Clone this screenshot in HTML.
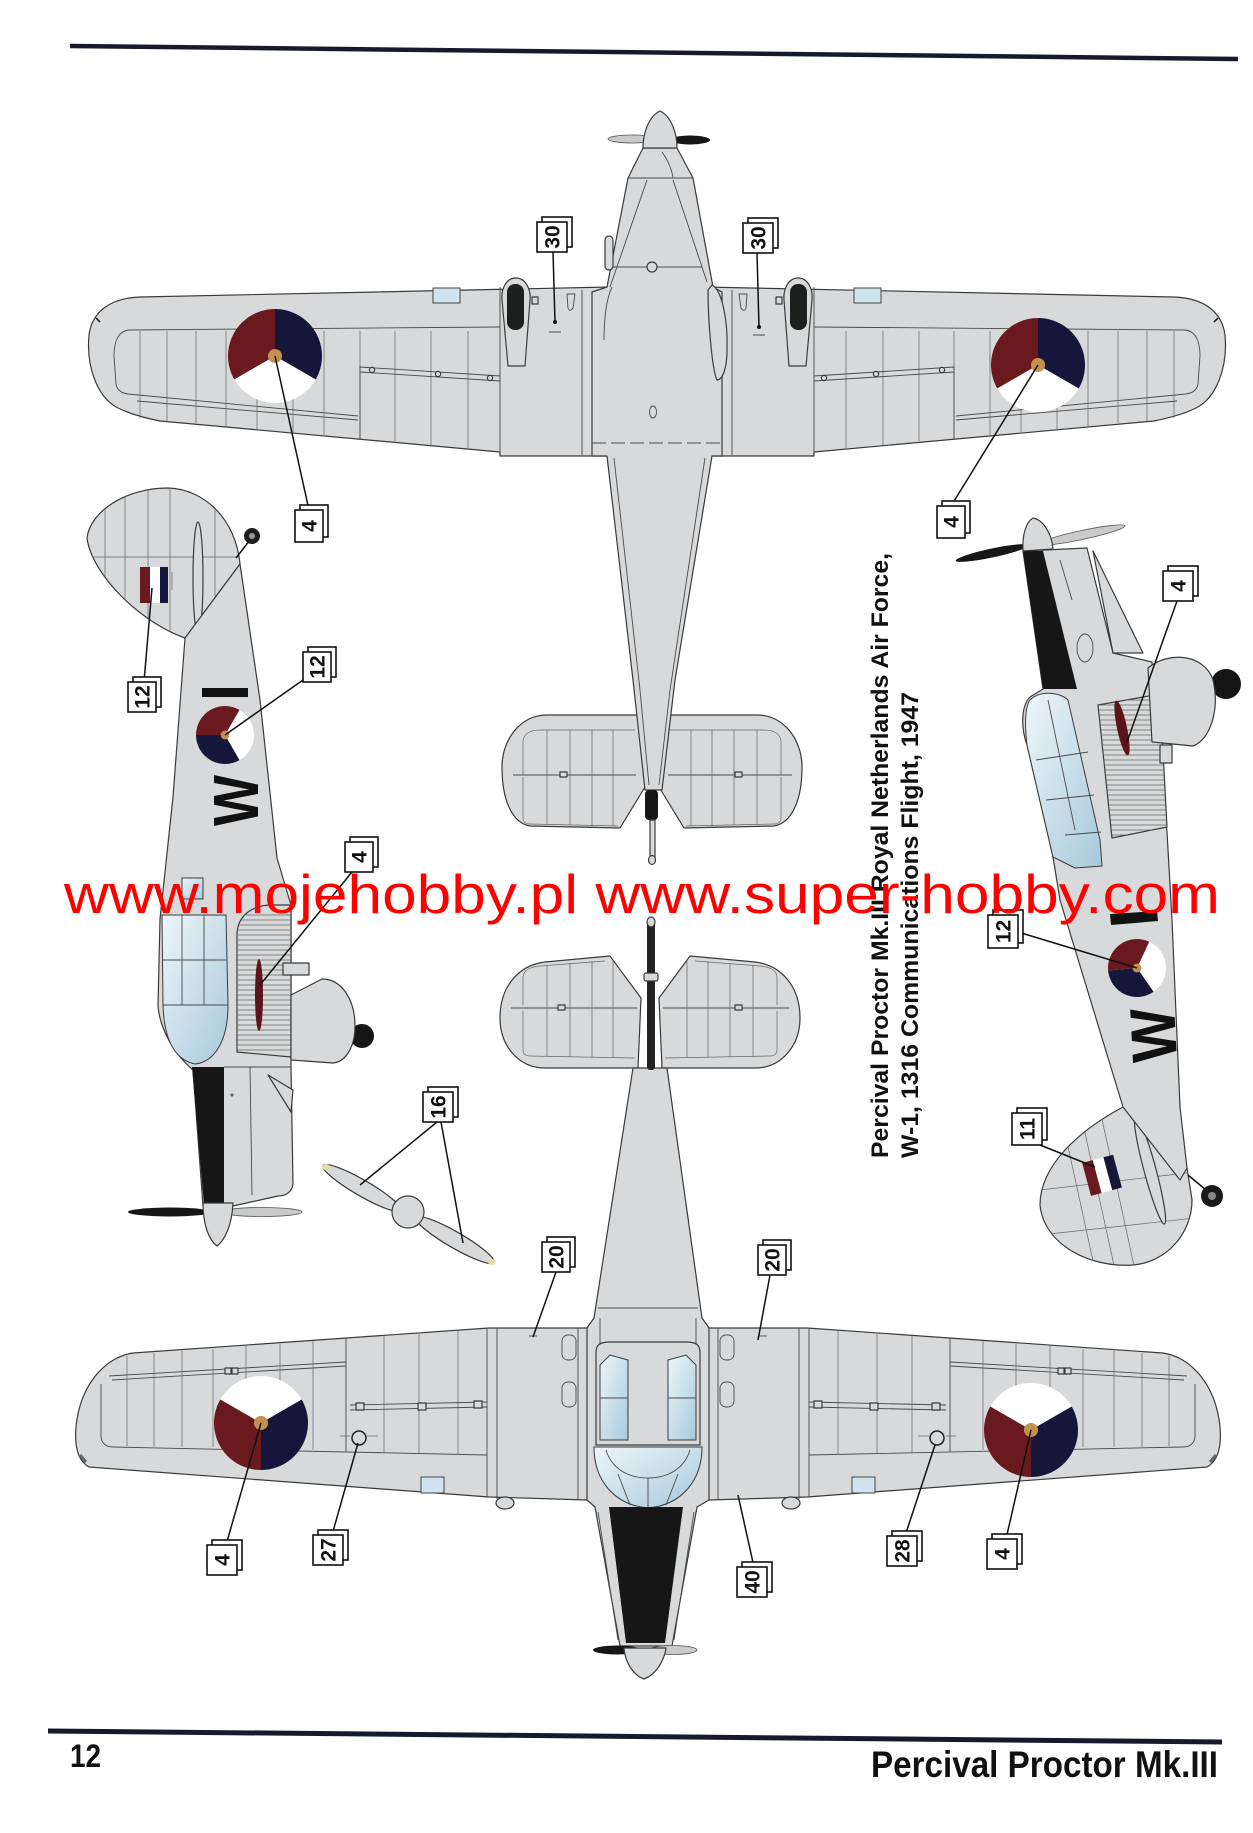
<!DOCTYPE html>
<html><head><meta charset="utf-8"><style>
html,body{margin:0;padding:0;background:#fff;}
svg{display:block;}
.pl{fill:#d8d9da;stroke:#3a3a3a;stroke-width:1.2;stroke-linejoin:round}
.ln{fill:none;stroke:#4a4a4a;stroke-width:0.9}
.lt{fill:none;stroke:#666;stroke-width:0.7}
.dk{fill:#161616}
.gl{fill:url(#glass);stroke:#3a3a3a;stroke-width:1}
.bx{fill:#fff;stroke:#111;stroke-width:1.6}
.bt{font-family:"Liberation Sans",sans-serif;font-weight:bold;font-size:21px;text-anchor:middle;fill:#111}
.ld{stroke:#111;stroke-width:1.5;fill:none}
</style></head><body>
<svg width="1253" height="1833" viewBox="0 0 1253 1833" xmlns="http://www.w3.org/2000/svg">
<defs>
 <linearGradient id="glass" x1="0" y1="0" x2="1" y2="1"><stop offset="0" stop-color="#eef6fa"/><stop offset="1" stop-color="#a7c9da"/></linearGradient>
 <g id="rA">
  <path d="M0,0 L-0.866,0.5 A1,1 0 0 1 0,-1 Z" fill="#6a1a1e"/>
  <path d="M0,0 L0,-1 A1,1 0 0 1 0.866,0.5 Z" fill="#15163a"/>
  <path d="M0,0 L0.866,0.5 A1,1 0 0 1 -0.866,0.5 Z" fill="#ffffff"/>
  <circle r="0.15" fill="#c39050"/>
 </g>
 <g id="rB">
  <path d="M0,0 L-0.866,-0.5 A1,1 0 0 1 0.866,-0.5 Z" fill="#ffffff"/>
  <path d="M0,0 L0.866,-0.5 A1,1 0 0 1 0,1 Z" fill="#15163a"/>
  <path d="M0,0 L0,1 A1,1 0 0 1 -0.866,-0.5 Z" fill="#6a1a1e"/>
  <circle r="0.15" fill="#c39050"/>
 </g>
 <g id="rC">
  <path d="M0,0 L0.5,-0.866 A1,1 0 0 1 0.5,0.866 Z" fill="#ffffff"/>
  <path d="M0,0 L0.5,0.866 A1,1 0 0 1 -1,0 Z" fill="#15163a"/>
  <path d="M0,0 L-1,0 A1,1 0 0 1 0.5,-0.866 Z" fill="#6a1a1e"/>
  <circle r="0.15" fill="#c39050"/>
 </g>
 <clipPath id="cFinC"><path d="M240,564 C236,520 205,489 168,488 C125,488 90,512 87,538 C92,575 140,622 185,638 Z"/></clipPath>
 <clipPath id="cWingC"><path d="M237,1052 L237,935 C237,916 252,905 272,905 L291,905 L291,1057 Z"/></clipPath>
 <clipPath id="cFinD"><path d="M1123,1107 C1080,1130 1040,1165 1040,1205 C1044,1245 1090,1268 1133,1265 C1168,1262 1192,1232 1192,1200 L1187,1168 Z"/></clipPath>
 <clipPath id="cWingD"><path d="M1098,705 L1160,694 L1167,827 L1112,838 Z"/></clipPath>

 <!-- plane A left wing details -->
 <g id="wdA">
  <path class="ln" d="M129,330 L500,327"/>
  <path class="ln" d="M129,330 C118,331 114,342 114,356 L116,384 C117,390 121,393 128,394 L358,416"/>
  <path class="ln" d="M137,401 L358,420"/>
  <path class="lt" d="M140,331V418 M167,331V421 M196,331V423 M226,331V426 M257,331V429 M293,331V432 M324,331V435 M360,331V438 M395,331V441 M431,331V445 M468,331V448"/>
  <path class="ln" d="M360,367 L500,376 M360,372 L500,381 M360,366 L360,440 M500,287 L500,453 M582,290 L582,455"/>
  <circle cx="372" cy="370" r="2.6" class="pl"/><circle cx="438" cy="374" r="2.6" class="pl"/><circle cx="490" cy="378" r="2.6" class="pl"/>
  <rect x="433" y="288" width="27" height="15" fill="#cfe4ee" stroke="#444" stroke-width="1"/>
  <path class="pl" d="M516,278 C526,278 531,290 530,300 L525,366 L508,366 L502,300 C501,289 506,278 516,278 Z"/>
  <rect x="507" y="284" width="17" height="46" rx="8" fill="#1e201e"/>
  <rect x="532" y="297" width="6" height="7" class="pl"/>
  <path class="ln" d="M567,294 L575,294 L573,308 C571,311 569,311 568,308 Z"/>
  <path class="ld" d="M96,318 L100,322" stroke="#5a6a70" stroke-width="3"/>
 </g>

 <!-- plane B left wing details -->
 <g id="wdB">
  <path class="ln" d="M109,1376 L346,1362 M112,1380 L346,1366"/>
  <path class="ln" d="M101,1384 L101,1436 C101,1443 106,1447 113,1447 L487,1455"/>
  <path class="lt" d="M127,1356V1446 M154,1353V1447 M182,1351V1447 M213,1349V1447 M246,1346V1448 M280,1344V1449 M313,1341V1450 M384,1336V1453 M419,1334V1453 M458,1331V1454"/>
  <path class="ln" d="M346,1338V1452 M487,1328V1497 M497,1328V1499 M578,1328V1500"/>
  <path class="ln" d="M350,1405 L487,1402 M350,1410 L487,1407"/>
  <rect x="356" y="1403" width="8" height="7" class="pl"/><rect x="418" y="1403" width="8" height="7" class="pl"/><rect x="474" y="1401" width="8" height="7" class="pl"/>
  <rect x="225" y="1368" width="6" height="6" class="pl"/><rect x="232" y="1368" width="6" height="6" class="pl"/>
  <rect x="421" y="1477" width="23" height="16" fill="#cfe4ee" stroke="#444" stroke-width="1"/>
  <rect x="562" y="1335" width="14" height="25" rx="6" class="ln"/>
  <rect x="562" y="1382" width="14" height="25" rx="6" class="ln"/>
  <ellipse cx="505" cy="1503" rx="9" ry="6" class="pl"/>
  <circle cx="359" cy="1438" r="7" fill="none" stroke="#222" stroke-width="1.5"/>
  <path class="lt" d="M340,1436 L350,1436 M367,1436 L378,1436"/>
  <path class="ln" d="M529,1336 L537,1336"/>
  <path d="M80,1455 L86,1462" stroke="#5a6a70" stroke-width="3"/>
 </g>
</defs>

<rect width="1253" height="1833" fill="#ffffff"/>

<!-- page rules -->
<line x1="70" y1="46" x2="1238" y2="59" stroke="#161a2c" stroke-width="4.5"/>
<line x1="48" y1="1731" x2="1222" y2="1742" stroke="#161a2c" stroke-width="5"/>

<!-- ============ PLANE A (top view, nose up) ============ -->
<g>
 <path class="pl" d="M610,287 L140,297 C110,298 92,312 89,335 C86,368 98,398 118,408 C130,414 145,418 160,421 L500,452 L500,456 L814,456 L814,452 L1154,421 C1169,418 1184,414 1196,408 C1216,398 1228,368 1225,335 C1222,312 1204,298 1174,297 L704,287 Z"/>
 <use href="#wdA"/>
 <use href="#wdA" transform="translate(1314,0) scale(-1,1)"/>
 <!-- tailplane A -->
 <path class="pl" d="M640,715 L547,715 C520,715 502,740 502,767 C502,800 512,823 530,826 L620,828 L645,787 Z"/>
 <path class="pl" d="M664,715 L757,715 C784,715 802,740 802,767 C802,800 792,823 774,826 L684,828 L659,787 Z"/>
 <path class="ln" d="M513,775 L636,775 M668,775 L792,775"/>
 <path class="lt" d="M523,775 L523,742 C523,734 530,730 540,730 L635,730 M523,777 L523,818 C523,822 526,824 530,824 L618,826 M781,775 L781,742 C781,734 774,730 764,730 L669,730 M781,777 L781,818 C781,822 778,824 774,824 L686,826"/>
 <path class="lt" d="M547,730V824 M570,730V825 M592,730V826 M613,730V826 M757,730V824 M734,730V825 M712,730V826 M691,730V826"/>
 <rect x="560" y="772" width="7" height="5" class="pl"/><rect x="735" y="772" width="7" height="5" class="pl"/>
 <!-- fuselage A -->
 <path class="pl" d="M643,148 L677,148 L693,178 L713,287 L722,292 L722,456 L712,456 L675,680 L662,790 L645,790 L633,680 L607,456 L592,456 L592,292 L607,287 L628,178 Z"/>
 <path class="ln" d="M647,180 L610,287 M673,180 L707,282 M612,267 L702,267 M628,178 L693,178"/>
 <circle cx="652" cy="267" r="5" class="pl"/>
 <path class="ln" d="M612,287 C606,300 604,320 604,340"/>
 <path class="pl" d="M712,285 C722,290 728,320 727,350 C727,370 722,380 717,380 C712,370 708,320 708,290 Z"/>
 <rect x="605" y="236" width="8" height="34" rx="4" class="pl"/>
 <path class="ln" d="M592,443 L722,443" stroke-dasharray="14,5"/>
 <ellipse cx="653" cy="412" rx="3.5" ry="6" class="ln"/>
 <path class="ln" d="M614,458 L640,690 L649,785 M705,458 L670,690 L659,785"/>
 <path d="M662,152 C668,160 672,170 673,178" class="ln"/>
 <rect x="645" y="790" width="13" height="30" rx="4" class="dk"/>
 <rect x="650" y="820" width="5" height="38" class="pl"/>
 <ellipse cx="652" cy="860" rx="3.5" ry="4.5" class="pl"/>
 <!-- prop & spinner -->
 <ellipse cx="632" cy="139" rx="24" ry="4" fill="#c9caca" stroke="#555" stroke-width="0.8"/>
 <ellipse cx="690" cy="140" rx="20" ry="4.5" fill="#161616"/>
 <path class="pl" d="M660,111 C671,116 677,133 677,148 L643,148 C643,133 649,116 660,111 Z"/>
 <use href="#rA" transform="translate(275,356) scale(47)"/>
 <use href="#rA" transform="translate(1038,365) scale(47)"/>
</g>

<!-- ============ PLANE B (bottom view, nose down) ============ -->
<g>
 <!-- tailplane B -->
 <path class="pl" d="M638,1068 L545,1068 C518,1068 500,1045 500,1018 C500,985 520,965 545,962 L610,956 L641,998 Z"/>
 <path class="pl" d="M662,1068 L755,1068 C782,1068 800,1045 800,1018 C800,985 780,965 755,962 L690,956 L659,998 Z"/>
 <path class="ln" d="M511,1008 L637,1008 M663,1008 L789,1008"/>
 <path class="lt" d="M523,1011 L523,1050 C523,1054 526,1056 530,1056 L635,1058 M523,1005 L523,978 C523,970 530,967 540,966 L605,961 M777,1011 L777,1050 C777,1054 774,1056 770,1056 L665,1058 M777,1005 L777,978 C777,970 770,967 760,966 L695,961"/>
 <path class="lt" d="M547,965V1056 M570,963V1057 M592,961V1057 M613,960V1057 M753,965V1056 M730,963V1057 M708,961V1057 M687,960V1057"/>
 <rect x="558" y="1005" width="7" height="5" class="pl"/><rect x="735" y="1005" width="7" height="5" class="pl"/>
 <!-- wings B -->
 <path class="pl" d="M595,1318 L587,1328 L489,1328 L133,1353 C105,1357 80,1385 76,1427 C74,1450 80,1462 89,1467 L489,1497 L587,1500 L709,1500 L807,1497 L1207,1467 C1216,1462 1222,1450 1220,1427 C1216,1385 1191,1357 1163,1353 L807,1328 L709,1328 L701,1318 Z"/>
 <use href="#wdB"/>
 <use href="#wdB" transform="translate(1296,0) scale(-1,1)"/>
 <!-- fuselage B -->
 <path class="pl" d="M633,1068 L667,1068 L702,1318 L709,1328 L709,1500 L697,1507 L672,1646 L620,1646 L595,1507 L587,1500 L587,1328 L594,1318 Z"/>
 <path class="ln" d="M598,1308 L698,1308 M600,1318 L600,1350 M696,1318 L696,1350"/>
 <rect x="647" y="922" width="8" height="148" rx="3" fill="#222"/>
 <ellipse cx="651" cy="922" rx="4" ry="5" class="pl"/>
 <rect x="644" y="973" width="14" height="8" rx="2" class="pl"/>
 <!-- canopy -->
 <path class="pl" d="M596,1352 C596,1345 600,1342 610,1342 L686,1342 C696,1342 700,1345 700,1352 L700,1445 L596,1445 Z"/>
 <path class="gl" d="M600,1365 L610,1355 L628,1360 L628,1440 L600,1440 Z"/>
 <path class="gl" d="M696,1365 L686,1355 L668,1360 L668,1440 L696,1440 Z"/>
 <path class="ln" d="M600,1398 L628,1398 M668,1398 L696,1398"/>
 <path class="gl" d="M594,1447 L702,1447 C702,1480 682,1505 648,1508 C614,1505 594,1480 594,1447 Z"/>
 <path class="ln" d="M606,1450 C612,1470 630,1478 648,1478 C666,1478 684,1470 690,1450 M618,1474 L630,1505 M648,1478 L648,1508 M678,1474 L666,1505"/>
 <path class="dk" d="M609,1507 L683,1507 L665,1643 L626,1643 Z"/>
 <path class="ln" d="M598,1512 L618,1640 M694,1512 L674,1640"/>
 <!-- prop & spinner -->
 <ellipse cx="617" cy="1650" rx="24" ry="4.5" fill="#161616"/>
 <ellipse cx="673" cy="1650" rx="24" ry="4.5" fill="#c9caca" stroke="#555" stroke-width="0.8"/>
 <path class="pl" d="M624,1648 L666,1648 C664,1662 655,1675 644,1679 C633,1675 625,1662 624,1648 Z"/>
 <use href="#rB" transform="translate(261,1423) scale(47)"/>
 <use href="#rB" transform="translate(1031,1430) scale(47)"/>
</g>

<!-- ============ PLANE C (left side view, nose down) ============ -->
<g>
 <path class="pl" d="M240,564 C236,520 205,489 168,488 C125,488 90,512 87,538 C92,575 140,622 185,638 Z"/>
 <g clip-path="url(#cFinC)">
  <path class="lt" d="M105,480V640 M125,480V640 M148,480V640 M170,480V640 M215,480V640 M88,557 L240,557"/>
 </g>
 <!-- flag -->
 <rect x="140" y="567" width="10" height="36" fill="#6a1a1e"/>
 <rect x="150" y="567" width="10" height="36" fill="#ffffff"/>
 <rect x="160" y="567" width="8" height="36" fill="#15163a"/>
 <path class="lt" d="M172,572 L172,590"/>
 <ellipse cx="198" cy="578" rx="5" ry="56" class="pl"/>
 <path class="ld" d="M236,558 L250,540" stroke="#444" stroke-width="2"/>
 <circle cx="252" cy="536" r="8" fill="#1e1e1e"/><circle cx="252" cy="536" r="3" fill="#999"/>
 <!-- fuselage -->
 <path class="pl" d="M185,638 L240,564 L260,700 L277,858 L291,905 L291,1067 L293,1184 C292,1192 286,1196 278,1196 L233,1206 L203,1206 L193,1070 C175,1055 160,1030 158,1006 L160,919 L173,797 Z"/>
 <path class="dk" d="M192,1067 L224,1067 L224,1205 L204,1205 Z"/>
 <path class="ln" d="M224,1067 L291,1067 M250,1067 L252,1195"/>
 <path class="pl" d="M268,1075 L293,1090 L291,1112 Z"/>
 <circle cx="232" cy="1095" r="1.5" fill="#555"/>
 <!-- canopy -->
 <path class="gl" d="M162,915 L226,915 L228,1005 C228,1040 215,1062 195,1064 C175,1060 164,1040 163,1005 Z"/>
 <path class="ln" d="M182,915 L182,1005 M204,915 L204,1005 M162,960 L227,960 M163,1005 L228,1005"/>
 <rect x="182" y="878" width="21" height="21" class="gl"/>
 <!-- wing -->
 <path class="pl" d="M237,1052 L237,935 C237,916 252,905 272,905 L291,905 L291,1057 Z"/>
 <g clip-path="url(#cWingC)">
  <path class="lt" d="M237,915H291 M237,920H291 M237,925H291 M237,930H291 M237,935H291 M237,940H291 M237,945H291 M237,950H291 M237,955H291 M237,960H291 M237,965H291 M237,970H291 M237,975H291 M237,980H291 M237,985H291 M237,990H291 M237,995H291 M237,1000H291 M237,1005H291 M237,1010H291 M237,1015H291 M237,1020H291 M237,1025H291 M237,1030H291 M237,1035H291 M237,1040H291 M237,1045H291 M237,1050H291"/>
 </g>
 <ellipse cx="259" cy="995" rx="4" ry="36" fill="#5a1518"/>
 <circle cx="362" cy="1036" r="12" fill="#151515"/>
 <path class="pl" d="M291,995 L322,979 C342,979 355,1000 355,1026 C355,1048 345,1062 333,1063 L291,1060 Z"/>
 <rect x="283" y="963" width="26" height="12" class="pl"/>
 <!-- markings -->
 <use href="#rC" transform="translate(225,735) scale(29)"/>
 <rect x="202" y="688" width="46" height="9" fill="#111"/>
 <text transform="translate(258,826) rotate(-90)" font-family="Liberation Sans, sans-serif" font-weight="bold" font-size="64" textLength="51" lengthAdjust="spacingAndGlyphs" fill="#111">W</text>
 <!-- prop -->
 <ellipse cx="170" cy="1212" rx="42" ry="4.5" fill="#161616"/>
 <ellipse cx="262" cy="1212" rx="40" ry="4.5" fill="#c9caca" stroke="#555" stroke-width="0.8"/>
 <path class="pl" d="M203,1203 L233,1203 C232,1225 225,1240 217,1246 C209,1240 203,1225 203,1203 Z"/>
</g>

<!-- ============ PLANE D (right side view, nose up) ============ -->
<g>
 <path class="pl" d="M1123,1107 C1080,1130 1040,1165 1040,1205 C1044,1245 1090,1268 1133,1265 C1168,1262 1192,1232 1192,1200 L1187,1168 Z"/>
 <g clip-path="url(#cFinD)">
  <path class="lt" d="M1060,1110 L1095,1270 M1080,1110 L1115,1270 M1100,1110 L1135,1270 M1040,1235 L1195,1218 M1040,1190 L1195,1172"/>
 </g>
 <g transform="rotate(-15 1103 1175)">
  <rect x="1086" y="1158" width="11" height="34" fill="#6a1a1e"/>
  <rect x="1097" y="1158" width="11" height="34" fill="#ffffff"/>
  <rect x="1108" y="1158" width="10" height="34" fill="#15163a"/>
 </g>
 <ellipse cx="1150" cy="1170" rx="6" ry="56" transform="rotate(-15 1150 1170)" class="pl"/>
 <circle cx="1212" cy="1196" r="11" fill="#1a1a1a"/><circle cx="1212" cy="1196" r="4" fill="#888"/>
 <path class="ld" d="M1188,1175 L1206,1190" stroke="#444" stroke-width="2"/>
 <!-- fuselage -->
 <path class="pl" d="M1023,551 L1087,548 L1113,653 L1152,662 L1167,832 L1172,920 L1180,1107 L1187,1168 L1180,1180 L1123,1107 L1060,900 L1053,857 L1027,745 C1020,725 1022,705 1030,697 L1043,689 Z"/>
 <path class="dk" d="M1023,551 L1043,551 L1077,689 L1043,689 Z"/>
 <path class="pl" d="M1093,551 L1143,653 L1113,653 Z"/>
 <ellipse cx="1085" cy="648" rx="8" ry="14" class="ln"/>
 <path class="ln" d="M1060,560 L1072,600"/>
 <!-- canopy -->
 <path class="gl" d="M1030,700 C1040,690 1060,692 1068,700 L1100,840 L1102,866 L1075,868 L1053,857 L1027,745 C1024,720 1026,705 1030,700 Z"/>
 <path class="ln" d="M1048,700 L1075,830 M1036,760 L1088,752 M1046,800 L1094,795 M1065,835 L1101,832"/>
 <!-- wing -->
 <path class="pl" d="M1098,705 L1160,694 L1167,827 L1112,838 Z"/>
 <g clip-path="url(#cWingD)">
  <path class="lt" d="M1095,700H1170 M1095,705H1170 M1095,710H1170 M1095,715H1170 M1095,720H1170 M1095,725H1170 M1095,730H1170 M1095,735H1170 M1095,740H1170 M1095,745H1170 M1095,750H1170 M1095,755H1170 M1095,760H1170 M1095,765H1170 M1095,770H1170 M1095,775H1170 M1095,780H1170 M1095,785H1170 M1095,790H1170 M1095,795H1170 M1095,800H1170 M1095,805H1170 M1095,810H1170 M1095,815H1170 M1095,820H1170 M1095,825H1170 M1095,830H1170 M1095,835H1170"/>
 </g>
 <ellipse cx="1122" cy="728" rx="5" ry="28" transform="rotate(-12 1122 728)" fill="#5a1518"/>
 <circle cx="1226" cy="684" r="15" fill="#151515"/>
 <path class="pl" d="M1148,668 C1170,650 1205,655 1213,680 C1220,710 1210,740 1193,746 L1152,742 Z"/>
 <rect x="1160" y="745" width="12" height="18" class="pl"/>
 <!-- markings -->
 <use href="#rC" transform="translate(1137,968) rotate(-5) scale(29)"/>
 <path d="M1110,914 L1157,911 L1158,921 L1111,925 Z" fill="#111"/>
 <text transform="translate(1177,1061) rotate(-93)" font-family="Liberation Sans, sans-serif" font-weight="bold" font-size="64" textLength="54" lengthAdjust="spacingAndGlyphs" fill="#111">W</text>
 <!-- prop -->
 <ellipse cx="992" cy="553" rx="37" ry="4.5" transform="rotate(-12 992 553)" fill="#161616"/>
 <ellipse cx="1082" cy="535" rx="44" ry="4.5" transform="rotate(-12 1082 535)" fill="#c9caca" stroke="#555" stroke-width="0.8"/>
 <path class="pl" d="M1023,551 C1022,535 1026,522 1033,518 C1044,520 1052,535 1053,549 Z"/>
</g>

<!-- ============ loose propeller (16) ============ -->
<g>
 <ellipse cx="362" cy="1188" rx="45" ry="8" transform="rotate(30 362 1188)" class="pl"/>
 <ellipse cx="455" cy="1240" rx="45" ry="8" transform="rotate(30 455 1240)" class="pl"/>
 <ellipse cx="326" cy="1167" rx="4" ry="3" fill="#e6dca0"/>
 <ellipse cx="492" cy="1262" rx="4" ry="3" fill="#e6dca0"/>
 <circle cx="408" cy="1212" r="16" class="pl"/>
</g>

<!-- ============ leader lines ============ -->
<g class="ld">
 <path d="M553,252 L555,322"/><path d="M757,253 L759,327"/>
 <path d="M309,510 L275,356"/><path d="M951,506 L1038,365"/>
 <path d="M144,682 L152,588"/><path d="M303,680 L225,735"/><path d="M352,872 L260,985"/>
 <path d="M1177,601 L1127,742"/><path d="M1018,932 L1137,968"/><path d="M1040,1145 L1095,1167"/>
 <path d="M437,1122 L360,1185"/><path d="M441,1122 L463,1243"/>
 <path d="M556,1272 L533,1337"/><path d="M770,1275 L758,1340"/>
 <path d="M226,1545 L261,1423"/><path d="M332,1535 L358,1443"/>
 <path d="M754,1567 L738,1495"/><path d="M905,1536 L935,1445"/><path d="M1006,1539 L1031,1430"/>
</g>
<circle cx="555" cy="322" r="2" fill="#111"/><circle cx="759" cy="327" r="2" fill="#111"/>
<path class="ln" d="M549,332 L561,332 M753,335 L765,335"/>

<!-- ============ callout boxes ============ -->
<g>
 <rect x="542" y="217" width="30" height="30" class="bx"/><rect x="537" y="222" width="30" height="30" class="bx"/><text transform="translate(559.5,237) rotate(-90)" class="bt">30</text>
 <rect x="748" y="218" width="30" height="30" class="bx"/><rect x="743" y="223" width="30" height="30" class="bx"/><text transform="translate(765.5,238) rotate(-90)" class="bt">30</text>
 <rect x="300" y="505" width="28" height="32" class="bx"/><rect x="295" y="510" width="28" height="32" class="bx"/><text transform="translate(316.5,526) rotate(-90)" class="bt">4</text>
 <rect x="942" y="501" width="28" height="32" class="bx"/><rect x="937" y="506" width="28" height="32" class="bx"/><text transform="translate(958.5,522) rotate(-90)" class="bt">4</text>
 <rect x="133" y="677" width="28" height="30" class="bx"/><rect x="128" y="682" width="28" height="30" class="bx"/><text transform="translate(149.5,697) rotate(-90)" class="bt">12</text>
 <rect x="308" y="647" width="28" height="30" class="bx"/><rect x="303" y="652" width="28" height="30" class="bx"/><text transform="translate(324.5,667) rotate(-90)" class="bt">12</text>
 <rect x="350" y="837" width="28" height="30" class="bx"/><rect x="345" y="842" width="28" height="30" class="bx"/><text transform="translate(366.5,857) rotate(-90)" class="bt">4</text>
 <rect x="1168" y="566" width="30" height="30" class="bx"/><rect x="1163" y="571" width="30" height="30" class="bx"/><text transform="translate(1185.5,586) rotate(-90)" class="bt">4</text>
 <rect x="993" y="910" width="30" height="33" class="bx"/><rect x="988" y="915" width="30" height="33" class="bx"/><text transform="translate(1010.5,931.5) rotate(-90)" class="bt">12</text>
 <rect x="1017" y="1108" width="30" height="32" class="bx"/><rect x="1012" y="1113" width="30" height="32" class="bx"/><text transform="translate(1034.5,1129) rotate(-90)" class="bt">11</text>
 <rect x="428" y="1087" width="30" height="30" class="bx"/><rect x="423" y="1092" width="30" height="30" class="bx"/><text transform="translate(445.5,1107) rotate(-90)" class="bt">16</text>
 <rect x="547" y="1237" width="28" height="30" class="bx"/><rect x="542" y="1242" width="28" height="30" class="bx"/><text transform="translate(563.5,1257) rotate(-90)" class="bt">20</text>
 <rect x="763" y="1240" width="28" height="30" class="bx"/><rect x="758" y="1245" width="28" height="30" class="bx"/><text transform="translate(779.5,1260) rotate(-90)" class="bt">20</text>
 <rect x="212" y="1540" width="30" height="30" class="bx"/><rect x="207" y="1545" width="30" height="30" class="bx"/><text transform="translate(229.5,1560) rotate(-90)" class="bt">4</text>
 <rect x="318" y="1530" width="30" height="30" class="bx"/><rect x="313" y="1535" width="30" height="30" class="bx"/><text transform="translate(335.5,1550) rotate(-90)" class="bt">27</text>
 <rect x="742" y="1562" width="30" height="30" class="bx"/><rect x="737" y="1567" width="30" height="30" class="bx"/><text transform="translate(759.5,1582) rotate(-90)" class="bt">40</text>
 <rect x="892" y="1531" width="30" height="30" class="bx"/><rect x="887" y="1536" width="30" height="30" class="bx"/><text transform="translate(909.5,1551) rotate(-90)" class="bt">28</text>
 <rect x="992" y="1534" width="30" height="30" class="bx"/><rect x="987" y="1539" width="30" height="30" class="bx"/><text transform="translate(1009.5,1554) rotate(-90)" class="bt">4</text>
</g>

<!-- ============ title (vertical) ============ -->
<text transform="translate(888,1158) rotate(-90)" font-family="Liberation Sans, DejaVu Sans, sans-serif" font-weight="bold" font-size="24" textLength="605" lengthAdjust="spacingAndGlyphs" fill="#111">Percival Proctor Mk.III Royal Netherlands Air Force,</text>
<text transform="translate(918,1158) rotate(-90)" font-family="Liberation Sans, DejaVu Sans, sans-serif" font-weight="bold" font-size="24" textLength="466" lengthAdjust="spacingAndGlyphs" fill="#111">W-1, 1316 Communications Flight, 1947</text>

<!-- ============ footer ============ -->
<text x="70" y="1767" font-family="Liberation Sans Narrow, Liberation Sans, sans-serif" font-weight="bold" font-size="32" textLength="31" lengthAdjust="spacingAndGlyphs" fill="#111">12</text>
<text x="871" y="1777" font-family="Liberation Sans Narrow, Liberation Sans, sans-serif" font-weight="bold" font-size="37" textLength="347" lengthAdjust="spacingAndGlyphs" fill="#111">Percival Proctor Mk.III</text>

<!-- ============ watermark ============ -->
<text x="64" y="913" font-family="Liberation Sans, Arial, sans-serif" font-size="55" textLength="1156" lengthAdjust="spacingAndGlyphs" fill="#ff0000">www.mojehobby.pl www.super-hobby.com</text>
</svg>
</body></html>
